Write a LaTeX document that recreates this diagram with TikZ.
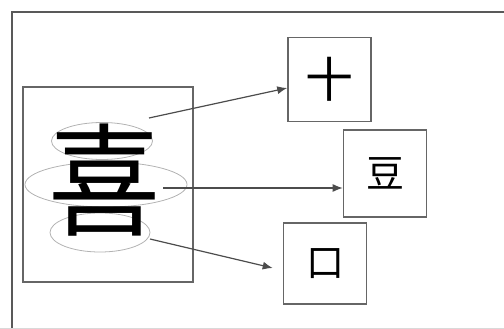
\documentclass[tikz,border=0pt]{standalone}
\usepackage{fontspec}
\newfontfamily\cjk{Noto Sans CJK SC}
\usetikzlibrary{arrows.meta,positioning,shapes.geometric}

\begin{document}
\begin{tikzpicture}[
    x=1pt, y=-1pt,
    frame/.style={draw=black!65, line width=2.5pt},
    charbox/.style={draw=black!60, line width=1.6pt, minimum width=83pt, minimum height=84pt, inner sep=0pt},
    part/.style={ellipse, draw=black!30, line width=0.8pt, inner sep=0pt},
    link/.style={draw=black!70, line width=1.2pt, -{Latex[length=10pt,width=8pt]}}
]
\useasboundingbox (0,0) rectangle (504,329);

% Outer frame
\draw[frame] (12,340) -- (12,12) -- (520,12);
\draw[black!15, line width=1.5pt] (0,328.5) -- (504,328.5);

% Whole character with its parts
\node[draw=black!60, line width=1.6pt, minimum width=170pt, minimum height=195pt, inner sep=0pt] (whole) at (108,184.5) {};
\node[part, minimum width=101pt, minimum height=37pt] (top) at (102,141) {};
\node[part, minimum width=162pt, minimum height=45pt] (mid) at (106,184.5) {};
\node[part, minimum width=100pt, minimum height=39pt] (bot) at (100,232.5) {};
\node[font=\cjk\fontsize{122}{122}\selectfont, inner sep=0pt, xscale=0.92] (xi) at (105,180) {喜};

% Components
\node[charbox] (shi) at (329.5,79.5) {\cjk\fontsize{48}{48}\selectfont 十};
\node[charbox, minimum height=87pt] (dou) at (385,173.5) {\cjk\fontsize{38}{38}\selectfont 豆};
\node[charbox, minimum height=81pt] (kou) at (325,263.5) {\cjk\fontsize{38}{38}\selectfont 口};

% Arrows
\coordinate (s1) at (149,118);
\coordinate (s2) at (163,188);
\coordinate (s3) at (150,239);
\draw[link] (s1) -- (shi.west |- 0,88);
\draw[link] (s2) -- (dou.west |- s2);
\draw[link] (s3) -- ([xshift=-10pt]kou.west |- 0,268);

\end{tikzpicture}
\end{document}
